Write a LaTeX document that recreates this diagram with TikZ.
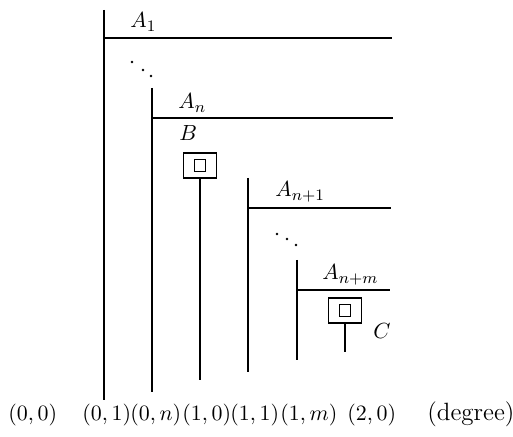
\documentclass[tikz,border=0pt]{standalone}
\begin{document}
\begin{tikzpicture}[x=0.5pt,y=-0.5pt,
  ln/.style={line width=0.7pt},
  lab/.style={inner sep=0pt,anchor=base west,font=\fontsize{11}{13}\selectfont},
  blab/.style={inner sep=0pt,anchor=base west,font=\fontsize{11}{13}\selectfont},
  outbox/.style={draw,line width=0.7pt,minimum width=16.5pt,minimum height=12.5pt,inner sep=0pt},
  inbox/.style={draw,line width=0.7pt,minimum width=5.5pt,minimum height=6pt,inner sep=0pt},
  dot/.style={circle,fill,inner sep=0pt,minimum size=1.3pt}]
\useasboundingbox (0,0) rectangle (513,437);
% coordinates of the staircase
\coordinate (v1t) at (104,10);  \coordinate (v1b) at (104,400);
\coordinate (h1l) at (104,38);  \coordinate (h1r) at (392,38);
\coordinate (v2t) at (152,88);  \coordinate (v2b) at (152,392);
\coordinate (h2l) at (152,118); \coordinate (h2r) at (393,118);
\coordinate (v3t) at (248,178); \coordinate (v3b) at (248,372);
\coordinate (h3l) at (248,208); \coordinate (h3r) at (391,208);
\coordinate (v4t) at (297,260); \coordinate (v4b) at (297,360);
\coordinate (h4l) at (297,290); \coordinate (h4r) at (390,290);
\draw[ln] (v1t) -- (v1b);
\draw[ln] (h1l) -- (h1r);
\draw[ln] (v2t) -- (v2b);
\draw[ln] (h2l) -- (h2r);
\draw[ln] (v3t) -- (v3b);
\draw[ln] (h3l) -- (h3r);
\draw[ln] (v4t) -- (v4b);
\draw[ln] (h4l) -- (h4r);
% dots
\node[dot] (d1) at (132,62) {};
\node[dot] (d2) at (143,70) {};
\node[dot] (d3) at (151,76) {};
\node[dot] (d4) at (277,234) {};
\node[dot] (d5) at (287,239) {};
\node[dot] (d6) at (296,245) {};
% boxes
\node[outbox] (Bbox) at (200,165.5) {};
\node[inbox] (Bin) at (Bbox.center) {};
\coordinate (Bend) at (200,380);
\draw[ln] (Bbox.south) -- (Bend);
\node[outbox] (Cbox) at (345,310.5) {};
\node[inbox] (Cin) at (Cbox.center) {};
\coordinate (Cend) at (345,352);
\draw[ln] (Cbox.south) -- (Cend);
% labels
\node[lab] (lA1) at (130,28) {$A_1$};
\node[lab] (lAn) at (178,109) {$A_n$};
\node[lab] (lB) at (179,141) {$B$};
\node[lab] (lAn1) at (275,197) {$A_{n+1}$};
\node[lab] (lAnm) at (322,280) {$A_{n+m}$};
\node[lab] (lC) at (373,339) {$C$};
% bottom labels
\node[blab] (t00) at (8,421) {$(0,0)$};
\node[blab] (t01) at (82,421) {$(0,1)$};
\node[blab] (t0n) at (130,421) {$(0,n)$};
\node[blab] (t10) at (182,421) {$(1,0)$};
\node[blab] (t11) at (230,421) {$(1,1)$};
\node[blab] (t1m) at (280,421) {$(1,m)$};
\node[blab] (t20) at (347,421) {$(2,0)$};
\node[blab,font=\fontsize{12.5}{14}\selectfont] (tdeg) at (427,421) {(degree)};
\end{tikzpicture}
\end{document}
